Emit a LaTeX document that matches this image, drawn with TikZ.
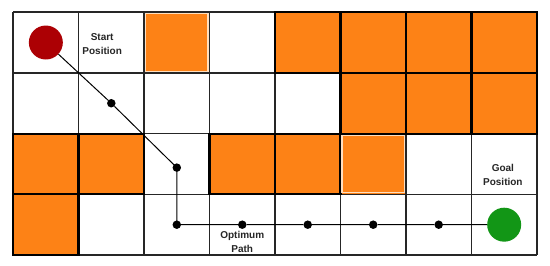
\documentclass[tikz,border=0pt]{standalone}
\usepackage{fontspec}
\setmainfont{Liberation Sans}
\usepackage{xcolor}
\usepackage{tikz}
\usetikzlibrary{positioning, calc}

\definecolor{obsorange}{RGB}{253,130,22}
\definecolor{startred}{RGB}{172,0,4}
\definecolor{goalgreen}{RGB}{18,150,22}

\begin{document}
\begin{tikzpicture}[
  x=65.5pt, y=-60.75pt,
  gridline/.style={draw=black!85, line width=1.3pt},
  obsfill/.style={fill=obsorange},
  obsedge/.style={draw=black, line width=2.2pt},
  softedge/.style={draw=orange!25!white, line width=1.2pt},
  wp/.style={circle, fill=black, inner sep=0pt, minimum size=8.5pt},
  endpt/.style={circle, inner sep=0pt, minimum size=34pt},
  trail/.style={draw=black, line width=1pt},
  lbl/.style={font=\fontsize{10}{14}\selectfont\bfseries, align=center, text=black!85}
]
\path[use as bounding box, fill=white] (-0.2,-0.2) rectangle (8.2,4.18);
\foreach \c/\r in {3/1,5/1,6/1,7/1,8/1,6/2,7/2,8/2,1/3,2/3,4/3,5/3,6/3,1/4}
  \fill[obsfill] (\c-1,\r-1) rectangle (\c,\r);
\foreach \c in {0,...,8}
  \draw[gridline] (\c,0) -- (\c,4);
\foreach \r in {0,...,4}
  \draw[gridline] (0,\r) -- (8,\r);
\foreach \c/\r in {5/1,6/1,7/1,8/1,6/2,7/2,8/2,1/3,2/3,4/3,5/3,1/4}
  \draw[obsedge] (\c-1,\r-1) rectangle (\c,\r);
\foreach \c/\r in {3/1,6/3}
  \draw[softedge] ([shift={(1.6pt,-1.6pt)}]\c-1,\r-1) rectangle ([shift={(-1.6pt,1.6pt)}]\c,\r);

\node[endpt, fill=startred] (start) at (0.5,0.5) {};
\node[wp] (p1) at (1.5,1.5) {};
\node[wp] (p2) at (2.5,2.56) {};
\node[wp] (p3) at (2.5,3.5) {};
\node[wp] (p4) at (3.5,3.5) {};
\node[wp] (p5) at (4.5,3.5) {};
\node[wp] (p6) at (5.5,3.5) {};
\node[wp] (p7) at (6.5,3.5) {};
\node[endpt, fill=goalgreen] (goal) at (7.5,3.5) {};
\draw[trail] (start) -- (p1) -- (p2.center) -- (p3.center) -- (p4) -- (p5) -- (p6) -- (p7) -- (goal);

\node[lbl] (startlbl) at (1.36,0.52) {Start\\Position};
\node[lbl] (goallbl) at (7.48,2.68) {Goal\\Position};
\node[lbl] (pathlbl) at (3.5,3.79) {Optimum\\Path};
\end{tikzpicture}
\end{document}
